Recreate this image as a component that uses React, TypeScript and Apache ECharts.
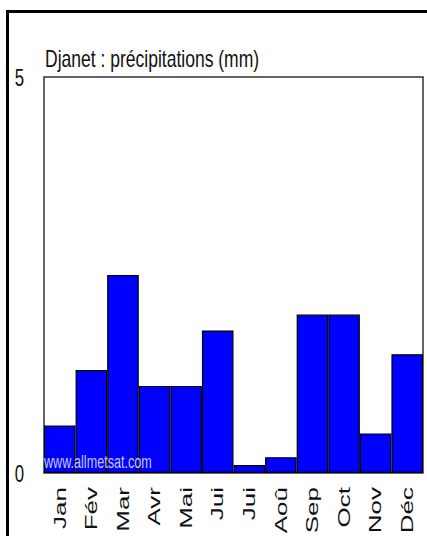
import React, { useEffect, useRef } from "react";
import * as echarts from "echarts";

const months = ["Jan", "Fév", "Mar", "Avr", "Mai", "Jui", "Jui", "Aoû", "Sep", "Oct", "Nov", "Déc"];
const precipitation = [0.6, 1.3, 2.5, 1.1, 1.1, 1.8, 0.1, 0.2, 2.0, 2.0, 0.5, 1.5];
const yTickValues = [0, 5];
const titleText = "Djanet : précipitations (mm)";
const watermark = "www.allmetsat.com";

const FONT = "'Liberation Sans', Arial, sans-serif";

export default function App() {
  const ref = useRef<HTMLDivElement>(null);

  useEffect(() => {
    if (!ref.current) return;
    const chart = echarts.init(ref.current, undefined, { renderer: "svg" });
    const base: any = {
      animation: false,
      backgroundColor: "#ffffff",
      grid: {
        left: 44,
        top: 77,
        right: 4,
        bottom: 63,
        show: true,
        borderColor: "#333333",
        borderWidth: 1.5,
        backgroundColor: "transparent",
      },
      xAxis: {
        type: "category",
        data: months,
        axisLine: { show: false },
        axisTick: { show: false },
        axisLabel: { show: false },
        splitLine: { show: false },
      },
      yAxis: {
        type: "value",
        min: 0,
        max: 5,
        interval: 5,
        axisLine: { show: false },
        axisTick: { show: false },
        axisLabel: { show: false },
        splitLine: { show: false },
      },
      series: [
        {
          type: "bar",
          data: precipitation,
          barCategoryGap: "0%",
          itemStyle: { color: "#0000ff", borderColor: "#000000", borderWidth: 1.2 },
        },
      ],
    };
    chart.setOption(base);

    const graphics: any[] = [];
    // outer frame
    graphics.push({
      type: "line",
      shape: { x1: 7.5, y1: 10, x2: 7.5, y2: 536 },
      style: { stroke: "#000", lineWidth: 3 },
      z: 100,
    });
    graphics.push({
      type: "line",
      shape: { x1: 6, y1: 11.5, x2: 427, y2: 11.5 },
      style: { stroke: "#000", lineWidth: 3 },
      z: 100,
    });
    // title
    graphics.push({
      type: "text",
      x: 45,
      y: 58.5,
      scaleX: 0.73,
      style: {
        text: titleText,
        font: `24px ${FONT}`,
        fill: "#111",
        align: "left",
        verticalAlign: "middle",
      },
      z: 100,
    });
    // y labels
    yTickValues.forEach((v) => {
      const p = chart.convertToPixel({ yAxisIndex: 0 }, v) as number;
      graphics.push({
        type: "text",
        x: 19.5,
        y: p,
        scaleX: 0.7,
        style: {
          text: String(v),
          font: `24px ${FONT}`,
          fill: "#111",
          align: "center",
          verticalAlign: "middle",
        },
        z: 100,
      });
    });
    // month labels
    const bottomY = chart.convertToPixel({ yAxisIndex: 0 }, 0) as number;
    months.forEach((m, i) => {
      const x = chart.convertToPixel({ xAxisIndex: 0 }, i) as number;
      graphics.push({
        type: "text",
        x: x,
        y: bottomY + 14,
        rotation: Math.PI / 2,
        scaleY: 0.65,
        style: {
          text: m,
          font: `26px ${FONT}`,
          fill: "#111",
          align: "right",
          verticalAlign: "middle",
        },
        z: 100,
      });
    });
    // watermark
    graphics.push({
      type: "text",
      x: 44,
      y: bottomY - 11,
      scaleX: 0.7,
      style: {
        text: watermark,
        font: `18px ${FONT}`,
        fill: "#c8c8ff",
        align: "left",
        verticalAlign: "middle",
      },
      z: 100,
    });

    chart.setOption({ graphic: graphics });

    return () => chart.dispose();
  }, []);

  return (
    <div
      ref={ref}
      style={{ position: "fixed", left: 0, top: 0, width: 427, height: 536 }}
    />
  );
}
